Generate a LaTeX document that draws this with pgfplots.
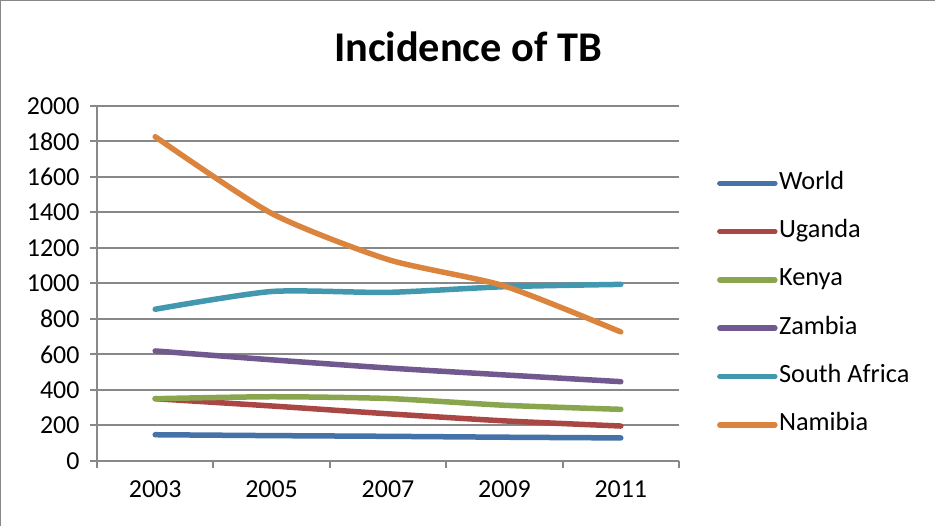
\documentclass[border=0pt]{standalone}
\usepackage{fontspec}
\setmainfont{Carlito}
\usepackage{pgfplots}
\pgfplotsset{compat=1.18}
\definecolor{cWorld}{HTML}{4572A7}
\definecolor{cUganda}{HTML}{AA4643}
\definecolor{cKenya}{HTML}{89A54E}
\definecolor{cZambia}{HTML}{71588F}
\definecolor{cSA}{HTML}{4198AF}
\definecolor{cNamibia}{HTML}{DB843D}
\definecolor{axgray}{HTML}{888888}
\begin{document}
\begin{tikzpicture}
\path[use as bounding box] (-97bp,-65bp) rectangle (838bp,461bp);
\draw[axgray, line width=1.5bp] (-96.25bp,-65bp) -- (-96.25bp,460.25bp) -- (838bp,460.25bp);
\node[font=\fontsize{42.5}{50}\selectfont\bfseries] at (371bp,414bp) {Incidence of TB};
\begin{axis}[
  at={(0,0)}, anchor=south west,
  scale only axis, width=582bp, height=355bp,
  xmin=-0.5, xmax=4.5, ymin=0, ymax=2000,
  xtick={0,1,2,3,4},
  xticklabels={2003,2005,2007,2009,2011},
  minor xtick={-0.5,0.5,1.5,2.5,3.5,4.5},
  ytick={0,200,...,2000},
  axis x line*=bottom, axis y line*=left,
  axis line style={axgray, line width=2bp},
  ymajorgrids, major grid style={axgray, line width=2bp},
  tick style={axgray, line width=2bp},
  major x tick style={draw=none},
  tick align=outside,
  major tick length=7bp, minor tick length=7bp,
  tick label style={font=\fontsize{26}{31}\selectfont},
  /pgf/number format/assume math mode=true,
  /pgf/number format/1000 sep={},
  yticklabel style={xshift=-7bp},
  xticklabel style={yshift=-9bp},
  legend cell align=left,
  legend style={draw=none, fill=none, at={(1.06,0.442)}, anchor=west,
    font=\fontsize{26.4}{31}\selectfont,
    row sep=24.3bp,
    nodes={inner xsep=1.5bp, inner ysep=0bp, text height=18bp, text depth=6bp}},
  legend image code/.code={\draw[#1, line width=5.5bp, line cap=round] (0bp,0bp) -- (55bp,0bp);},
  every axis plot/.append style={line width=5.5bp, line cap=round, line join=round, smooth, tension=0.4},
]
\addplot[cWorld] coordinates {(0,148) (1,143) (2,139) (3,134) (4,130)};
\addlegendentry{World}
\addplot[cUganda] coordinates {(0,351) (1,310) (2,266) (3,226) (4,197)};
\addlegendentry{Uganda}
\addplot[cKenya] coordinates {(0,351) (1,362) (2,352) (3,314) (4,291)};
\addlegendentry{Kenya}
\addplot[cZambia] coordinates {(0,620) (1,570) (2,524) (3,485) (4,447)};
\addlegendentry{Zambia}
\addplot[cSA] coordinates {(0,855) (1,955) (2,950) (3,982) (4,995)};
\addlegendentry{South Africa}
\addplot[cNamibia] coordinates {(0,1827) (1,1395) (2,1135) (3,986) (4,727)};
\addlegendentry{Namibia}
\end{axis}
\end{tikzpicture}
\end{document}
